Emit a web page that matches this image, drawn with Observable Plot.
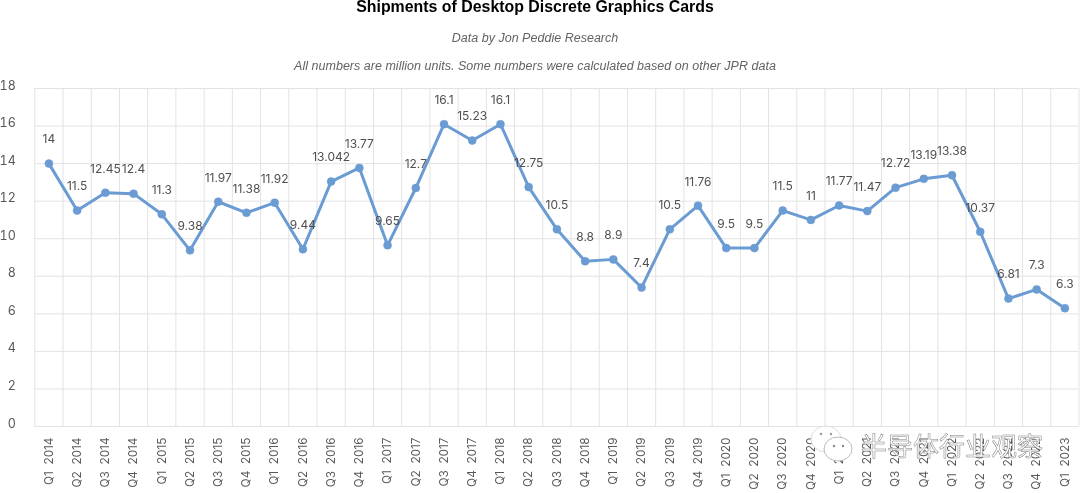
<!DOCTYPE html>
<html><head><meta charset="utf-8">
<script src="https://cdn.jsdelivr.net/npm/d3@7"></script>
<script src="https://cdn.jsdelivr.net/npm/@observablehq/plot@0.6"></script>
<style>
html,body{margin:0;padding:0;background:#fff;overflow:hidden;width:1080px;height:493px}
body{filter:blur(.4px)}
#head{position:relative;height:78px;width:1080px;overflow:hidden;font-family:"Liberation Sans",Arial,sans-serif}
#head div{position:absolute;left:0;width:1070px;text-align:center;white-space:nowrap}
#t{top:-1px;font-weight:bold;font-size:15.9px;color:#000;line-height:15px}
.s{font-style:italic;font-size:12.5px;color:#636363;line-height:14px;letter-spacing:.02px}
#chart{height:415px;width:1080px}
#wm{position:absolute;left:861px;top:430px;font:26px "Noto Sans CJK SC";color:#fff;-webkit-text-stroke:.5px #808080;line-height:30px;white-space:nowrap}
#logo{position:absolute;left:810px;top:423px}
</style></head><body>
<div id="head">
<div id="t">Shipments of Desktop Discrete Graphics Cards</div>
<div class="s" style="top:31px">Data by Jon Peddie Research</div>
<div class="s" style="top:59px">All numbers are million units. Some numbers were calculated based on other JPR data</div>
</div>
<div id="chart"></div>
<svg id="logo" width="46" height="44" viewBox="0 0 46 44"><ellipse cx="16" cy="16" rx="15" ry="13" fill="#fff" stroke="#ddd"/><ellipse cx="28" cy="26" rx="14" ry="12" fill="#fff" stroke="#bbb"/><circle cx="11" cy="11" r="1.2" fill="#999"/><circle cx="21" cy="11" r="1.2" fill="#999"/><circle cx="24" cy="23" r="1.2" fill="#888"/><circle cx="33" cy="23" r="1.2" fill="#888"/></svg>
<div id="wm">半导体行业观察</div>
<script>
const quarters = ["Q1  2014","Q2  2014","Q3  2014","Q4  2014","Q1  2015","Q2  2015","Q3  2015","Q4  2015","Q1  2016","Q2  2016","Q3  2016","Q4  2016","Q1  2017","Q2  2017","Q3  2017","Q4  2017","Q1  2018","Q2  2018","Q3  2018","Q4  2018","Q1  2019","Q2  2019","Q3  2019","Q4  2019","Q1  2020","Q2  2020","Q3  2020","Q4  2020","Q1  2021","Q2  2021","Q3  2021","Q4  2021","Q1  2022","Q2  2022","Q3  2022","Q4  2022","Q1  2023"];
const values = [14,11.5,12.45,12.4,11.3,9.38,11.97,11.38,11.92,9.44,13.042,13.77,9.65,12.7,16.1,15.23,16.1,12.75,10.5,8.8,8.9,7.4,10.5,11.76,9.5,9.5,11.5,11,11.77,11.47,12.72,13.19,13.38,10.37,6.81,7.3,6.3];
const yTicks = [0,2,4,6,8,10,12,14,16,18];
const rows = quarters.map((q,i)=>({q,v:values[i]}));
const gridColor = "#e3e3e3", lineColor = "#6b9bd3", inkColor = "#595959";
const fontFamily = "Inter, sans-serif";
const step = (1080-34.3-1.5)/quarters.length;
const fig = Plot.plot({
  width:1080,height:415,marginTop:10,marginBottom:67,marginLeft:34.3,marginRight:1.5,
  style:{background:"transparent",fontFamily,overflow:"visible"},
  x:{type:"point",domain:quarters,padding:.5,round:false,label:null},
  y:{domain:[0,18],label:null},
  marks:[
    Plot.ruleY(yTicks,{stroke:gridColor,strokeWidth:1}),
    Plot.ruleX(quarters,{dx:step/2,stroke:gridColor,strokeWidth:1}),
    Plot.ruleX(quarters.slice(0,1),{dx:-step/2,stroke:gridColor,strokeWidth:1}),
    Plot.axisY(yTicks,{tickSize:0,tickPadding:19,textAnchor:"end",dy:-3,fontSize:12.5,color:inkColor,label:null,tickFormat:d=>d}),
    Plot.axisX(quarters,{tickSize:0,tickRotate:-90,tickPadding:11,fontSize:11.8,color:inkColor,label:null}),
    Plot.line(rows,{x:"q",y:"v",stroke:lineColor,strokeWidth:3,strokeLinejoin:"round"}),
    Plot.dot(rows,{x:"q",y:"v",r:4,fill:lineColor,stroke:lineColor,strokeWidth:.5}),
    Plot.text(rows,{x:"q",y:"v",text:d=>String(d.v),dy:-24,fontSize:12,fill:"#505050",style:{letterSpacing:".3px"}})
  ]
});
document.getElementById("chart").appendChild(fig);
</script>
</body></html>
